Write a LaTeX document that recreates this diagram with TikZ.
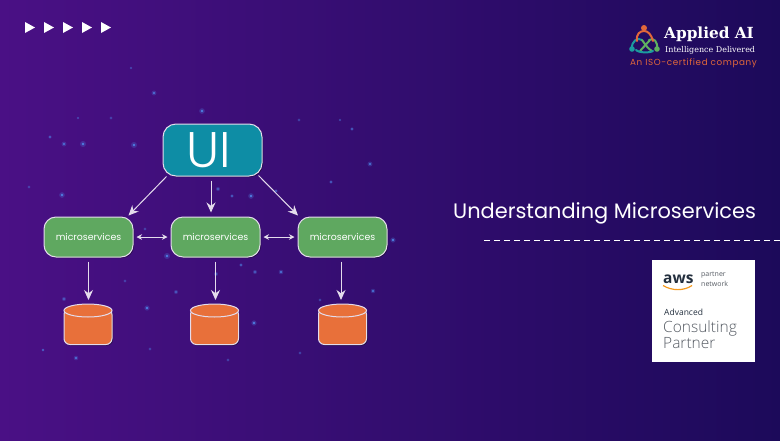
\documentclass[tikz,border=0pt]{standalone}
\usepackage{fontspec}
\setmainfont{Poppins}
\newfontfamily\plight{Poppins Light}
\newfontfamily\slab{DejaVu Serif}
\newfontfamily\awsfont{Open Sans}
\newfontfamily\awslight{Open Sans Light}
\newfontfamily\spaced[LetterSpace=7]{Poppins}
\usetikzlibrary{shadows,calc,arrows.meta}
\definecolor{bgL}{HTML}{4A1085}
\definecolor{bgM}{HTML}{3C0A6A}
\definecolor{bgR}{HTML}{1C0A5A}
\definecolor{uiC}{HTML}{0E8DA5}
\definecolor{msC}{HTML}{5FA860}
\definecolor{dbC}{HTML}{E8703A}
\definecolor{edgeC}{HTML}{E4DCEC}
\definecolor{starC}{HTML}{4F86E8}
\definecolor{awsD}{HTML}{232F3E}
\definecolor{awsO}{HTML}{F59A1E}
\definecolor{awsG}{HTML}{555B63}
\definecolor{logoO}{HTML}{E2683A}
\definecolor{logoT}{HTML}{1C9AA0}
\definecolor{logoG}{HTML}{5FB060}
\tikzset{
 x=1pt,y=-1pt,
 boxshadow/.style={copy shadow={shadow xshift=1pt,shadow yshift=-1pt,fill=black,draw=none,opacity=.45}},
 uibox/.style={draw=edgeC,line width=1pt,fill=uiC,rounded corners=13pt,minimum width=99pt,minimum height=52pt,inner sep=0pt,boxshadow},
 msbox/.style={draw=edgeC,line width=1pt,fill=msC,rounded corners=12pt,minimum width=89pt,minimum height=40pt,inner sep=0pt,boxshadow,text=white,font=\fontsize{9.4}{12}\selectfont},
 dbbody/.style={draw=edgeC,line width=1pt,fill=dbC,rounded corners=6pt,minimum width=48pt,minimum height=36pt,inner sep=0pt,boxshadow},
 dbtop/.style={draw=edgeC,line width=1pt,fill=dbC},
 link/.style={draw=edgeC,line width=1pt,-{Stealth[length=10pt,width=9pt]}},
 twoway/.style={draw=edgeC,line width=.8pt,{Stealth[length=5.5pt,width=5.5pt]}-{Stealth[length=5.5pt,width=5.5pt]}},
 txt/.style={inner sep=0pt,anchor=base west},
}
\begin{document}
\begin{tikzpicture}
\useasboundingbox (0,0) rectangle (780,440);
\shade[left color=bgL,middle color=bgM,right color=bgR] (0,0) rectangle (780,440);
% stars
\foreach \a/\b/\r in {50/137/1,64/144/1.3,83/144/1.6,134/145/1.6,62/195/1.5,111/118/.8,202/111/1.5,218/189/1.1,232/196/1,251/196/1.5,145/229/.8,167/256/1.6,241/265/1,255/272/1.1,125/281/.8,176/292/1.1,147/308/1.4,64/299/1.1,43/350/.9,76/358/1.2,254/323/1.4,216/274/1.1,370/164/1.3,352/129/1,299/120/.8,276/191/1,331/182/1,281/272/1.2,393/240/1.4,373/291/1.2,228/360/.8,150/349/.8,300/353/.8,29/187/.8,154/93/1.3,131/68/.7,105/225/.8,320/300/.8,340/120/.7,78/118/.7}{
  \fill[starC,opacity=.25] (\a,\b) circle (\r*1.9);
  \fill[starC,opacity=.9] (\a,\b) circle (\r*.9);
}
% top-left triangles
\foreach \a in {25,44,63,82,101}{
  \fill[white] (\a,22) -- (\a+10,27.5) -- (\a,33) -- cycle;
}
% databases
\foreach \n/\cx/\cy in {db1/88/326.5,db2/214.5/326.5,db3/342.5/326.5}{
  \node[dbbody] (\n) at (\cx,\cy) {};
  \draw[dbtop] (\cx,310.5) ellipse (24 and 6.5);
}
% boxes
\node[uibox] (ui) at (212.5,150) {\plight\fontsize{50}{54}\selectfont\color{white}\hspace*{-8pt}UI};
\node[msbox] (ms1) at (88.5,237) {microservices};
\node[msbox] (ms2) at (215.5,237) {microservices};
\node[msbox] (ms3) at (342.5,237) {microservices};
% connectors
\draw[link] ([xshift=4pt]ui.south west) -- ([xshift=-5pt,yshift=1pt]ms1.north east);
\draw[link] ([yshift=-4pt,xshift=-1.5pt]ui.south) -- ([yshift=4pt,xshift=-4.5pt]ms2.north);
\draw[link] ([xshift=-4pt,yshift=1pt]ui.south east) -- ([xshift=-44.5pt,yshift=1pt]ms3.north);
\draw[twoway] ([xshift=3pt]ms1.east) -- ([xshift=-3pt]ms2.west);
\draw[twoway] ([xshift=3pt]ms2.east) -- ([xshift=-3pt]ms3.west);
\draw[link] ([yshift=-4pt]ms1.south) -- ([yshift=8pt]db1.north -| ms1.south);
\draw[link] ([yshift=-4pt]ms2.south) -- ([yshift=8pt]db2.north -| ms2.south);
\draw[link] ([yshift=-4pt,xshift=-1.5pt]ms3.south) -- ([yshift=8pt,xshift=-1.5pt]db3.north -| ms3.south);
% title
\node[txt,text=white] (title) at (453,218) {\fontsize{20.9}{24}\selectfont Understanding Microservices};
\draw[white,line width=.8pt,dash pattern=on 6pt off 4pt] (484,240.5) -- (780,240.5);
% logo
\begin{scope}[line width=2pt,line cap=round]
\draw[logoG] (649,40) .. controls (654,37) and (658,42) .. (657,49);
\draw[logoG] (650,40) -- (640,51);
\draw[logoT] (632,49) .. controls (631,41) and (638,37) .. (642,40);
\draw[logoG] (642,40) .. controls (645,44) and (648,49) .. (652,51);
\draw[logoT] (636,50) .. controls (639,53) and (650,53) .. (653,51);
\draw[logoO] (637,41) .. controls (636,34) and (640,31) .. (644,31) .. controls (648,31) and (651,34) .. (653,41);
\end{scope}
\fill[logoO] (644,28) circle (3);
\fill[logoT] (632,49) circle (2.8);
\fill[logoG] (657,49) circle (2.8);
\node[txt,text=white] (ln1) at (664,38) {\slab\bfseries\fontsize{15.3}{18}\selectfont Applied AI};
\node[txt,text=white] (ln2) at (665,52) {\slab\fontsize{8}{10}\selectfont Intelligence Delivered};
\node[txt,text=logoO] (ln3) at (630,65) {\spaced\fontsize{8.8}{10}\selectfont An ISO-certified company};
% badge
\fill[white] (652,260) rectangle (754.5,362);
\node[txt,text=awsD] (aws) at (663,283) {\awsfont\bfseries\fontsize{15.5}{18}\selectfont aws};
\draw[awsO,line width=1.2pt] (663,285.5) .. controls (672,291) and (684,291) .. (692,285.5);
\node[txt,text=awsG,align=left,font=\awsfont\fontsize{7}{9.7}\selectfont] (pn1) at (701,286) {partner\\network};
\node[txt,text=awsD] (adv) at (664,315) {\awsfont\fontsize{8.5}{10}\selectfont Advanced};
\node[txt,text=awsG] (con) at (663,332) {\awslight\fontsize{15.5}{18}\selectfont Consulting};
\node[txt,text=awsG] (par) at (663,348) {\awslight\fontsize{15.5}{18}\selectfont Partner};
\end{tikzpicture}
\end{document}
